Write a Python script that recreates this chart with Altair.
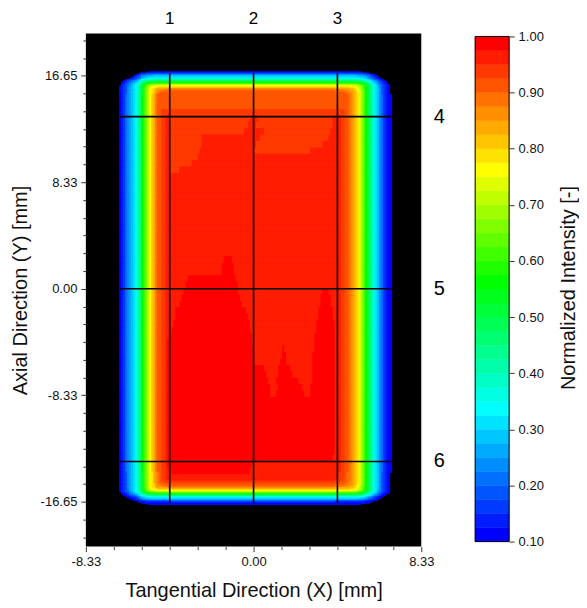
import math
import altair as alt
import pandas as pd

# ---------------- colour levels (contour bands of 0.025 from 0.10 to 1.00) ----------------
LEVEL_MIN = 0.10
LEVEL_STEP = 0.025
N_LEVELS = 36
BAND_COLORS = [
    "#0000ff", "#001cff", "#0039ff", "#0055ff", "#0071ff", "#008eff", "#00aaff", "#00c6ff", "#00e3ff", "#00ffff",
    "#00ffe3", "#00ffc6", "#00ffaa", "#00ff8e", "#00ff71", "#00ff55", "#00ff39", "#00ff1c", "#00ff00",
    "#20ff00", "#40ff00", "#60ff00", "#80ff00", "#9fff00", "#bfff00", "#dfff00", "#ffff00",
    "#ffe300", "#ffc600", "#ffaa00", "#ff8e00", "#ff7100", "#ff5500", "#ff3900", "#ff1c00", "#ff0000",
]
CB_TICKS = [0.10, 0.20, 0.30, 0.40, 0.50, 0.60, 0.70, 0.80, 0.90, 1.00]

# ---------------- intensity profiles ----------------
# tangential (X) fall-off at the left and right edges [mm] -> normalized intensity
X_LEFT = [-6.7, -6.6, -6.5, -6.4, -6.3, -6.2, -6.1, -6.0, -5.9, -5.8, -5.7, -5.6, -5.5,
          -5.4, -5.3, -5.2, -5.1, -5.0, -4.9, -4.8, -4.7, -4.6, -4.5, -4.4, -4.3]
I_LEFT = [0.05, 0.11, 0.14, 0.17, 0.20, 0.23, 0.26, 0.29, 0.32, 0.36, 0.41, 0.47, 0.55,
          0.61, 0.67, 0.72, 0.77, 0.80, 0.83, 0.875, 0.90, 0.92, 0.935, 0.948, 0.97]
X_RIGHT = [4.1, 4.2, 4.3, 4.4, 4.5, 4.6, 4.7, 4.8, 4.9, 5.0, 5.1, 5.2, 5.3, 5.4, 5.5,
           5.6, 5.7, 5.8, 5.9, 6.0, 6.1, 6.2, 6.3, 6.4, 6.5, 6.6, 6.7, 6.8, 6.9]
I_RIGHT = [0.98, 0.96, 0.95, 0.94, 0.93, 0.92, 0.90, 0.88, 0.86, 0.84, 0.81, 0.78, 0.73, 0.68, 0.63,
           0.57, 0.52, 0.46, 0.41, 0.36, 0.32, 0.28, 0.24, 0.20, 0.17, 0.14, 0.12, 0.10, 0.05]
# axial (Y) fall-off at the top and bottom edges [mm] -> normalized intensity
Y_TOP = [16.9, 16.8, 16.7, 16.6, 16.5, 16.4, 16.3, 16.2, 16.1, 16.0, 15.9, 15.8, 15.7,
         15.6, 15.5, 15.4, 15.3, 15.2]
I_TOP = [0.11, 0.17, 0.23, 0.28, 0.31, 0.35, 0.41, 0.48, 0.55, 0.62, 0.70, 0.77, 0.81,
         0.85, 0.88, 0.90, 0.92, 0.94]
Y_BOTTOM = [-14.4, -14.5, -14.6, -14.7, -14.8, -14.9, -15.0, -15.1, -15.2, -15.3, -15.4, -15.5, -15.6,
            -15.7, -15.8, -15.9, -16.0, -16.1, -16.2, -16.3, -16.4, -16.5, -16.6, -16.7, -16.8, -16.9]
I_BOTTOM = [0.985, 0.975, 0.97, 0.965, 0.96, 0.955, 0.95, 0.94, 0.93, 0.92, 0.90, 0.88, 0.85,
            0.81, 0.77, 0.70, 0.61, 0.53, 0.45, 0.37, 0.32, 0.26, 0.20, 0.15, 0.11, 0.07]
CORNER_P = 3  # how square the corners of the irradiated field are

# interior plateau levels
LEVEL_TOP_STRIP = 0.91   # y above 14.0 mm
LEVEL_UPPER = 0.94       # 13.4 .. 14.0 mm and patches below
LEVEL_PLATEAU = 0.96     # most of the field
LEVEL_PEAK = 0.99        # peak (red) zones
STRIP_Y = 14.0
UPPER_Y = 13.4
ROW_HALF = 0.25
# x-spans of the 0.925-0.95 patches, per 0.5 mm row (row centre in mm)
UPPER_SPANS = {
    13.25: [(-4.1, -0.1), (0.3, 4.0)],
    12.75: [(-4.1, -0.2), (0.2, 4.0)],
    12.25: [(-4.1, -0.4), (0.6, 3.9)],
    11.75: [(-4.1, -2.5), (0.4, 3.8)],
    11.25: [(-4.1, -2.5), (0.2, 3.5)],
    10.75: [(-4.1, -2.6), (0.1, 2.9)],
    10.25: [(-4.1, -2.7)],
    9.75: [(-4.1, -3.0)],
    9.25: [(-4.1, -3.6)],
}
# x-spans of the peak (>0.975) zones, per 0.5 mm row
PEAK_SPANS = {
    2.25: [(-1.45, -1.0)],
    1.75: [(-1.5, -0.9)],
    1.25: [(-1.5, -0.9)],
    0.75: [(-3.2, -0.8)],
    0.25: [(-3.3, -0.75)],
    -0.25: [(-3.45, -0.7), (3.45, 3.75)],
    -0.75: [(-3.55, -0.62), (3.4, 3.85)],
    -1.25: [(-3.65, -0.5), (3.35, 3.9)],
    -1.75: [(-3.8, -0.35), (3.3, 3.95)],
    -2.25: [(-3.9, -0.25), (3.25, 4.0)],
    -2.75: [(-3.95, -0.18), (3.2, 4.05)],
    -3.25: [(-4.0, -0.12), (3.15, 4.05)],
    -3.75: [(-4.1, -0.05), (3.1, 4.1)],
    -4.25: [(-4.2, 0.0), (3.05, 4.1)],
    -4.75: [(-4.25, 0.02), (1.45, 1.6), (3.05, 4.1)],
    -5.25: [(-4.25, 0.02), (1.42, 1.65), (3.0, 4.1)],
    -5.75: [(-4.3, 0.05), (1.38, 1.7), (3.0, 4.1)],
    -6.25: [(-4.3, 0.6), (1.3, 1.85), (3.0, 4.1)],
    -6.75: [(-4.3, 0.7), (1.22, 2.0), (3.0, 4.1)],
    -7.25: [(-4.3, 0.78), (1.2, 2.3), (2.95, 4.1)],
    -7.75: [(-4.3, 0.85), (1.25, 2.45), (2.9, 4.1)],
    -8.25: [(-4.3, 0.9), (1.15, 2.55), (2.85, 4.1)],
    -8.75: [(-4.3, 4.1)],
    -9.25: [(-4.3, 4.1)],
    -9.75: [(-4.3, 4.1)],
    -10.25: [(-4.3, 4.1)],
    -10.75: [(-4.3, 4.1)],
    -11.25: [(-4.3, 4.1)],
    -11.75: [(-4.3, 4.1)],
    -12.25: [(-4.3, 4.1)],
    -12.75: [(-4.3, 4.1)],
    -13.25: [(-4.3, 4.0)],
    -13.75: [(-4.2, 0.0)],
    -14.25: [(-4.0, -0.1)],
}

# measurement lines and their labels
VLINE_X = [-4.165, 0.0, 4.165]
VLINE_LABELS = ["1", "2", "3"]
VLINE_SPAN = [-16.75, 16.85]
HLINE_Y = [13.45, 0.0, -13.5]
HLINE_LABELS = ["4", "5", "6"]
HLINE_SPAN = [-6.65, 6.85]

# axes
X_DOMAIN = [-8.33, 8.33]
Y_DOMAIN = [-20.15, 19.95]
X_MAJOR = [-8.33, 0.0, 8.33]
Y_MAJOR = [-16.65, -8.33, 0.0, 8.33, 16.65]
MINOR_PER_MAJOR = 6

# ---------------- build the cell table ----------------
def in_spans(table, xc, yc):
    for key, spans in table.items():
        if key - ROW_HALF <= yc < key + ROW_HALF:
            return any(a <= xc < b for a, b in spans)
    return False

def interior(xc, yc):
    if yc > STRIP_Y:
        return LEVEL_TOP_STRIP
    if yc > UPPER_Y:
        return LEVEL_UPPER
    if in_spans(PEAK_SPANS, xc, yc):
        return LEVEL_PEAK
    if in_spans(UPPER_SPANS, xc, yc):
        return LEVEL_UPPER
    return LEVEL_PLATEAU

FINE = 0.1
cols = [(x - FINE / 2, x + FINE / 2, v) for x, v in zip(X_LEFT, I_LEFT)]
x_in_lo, x_in_hi = X_LEFT[-1] + FINE / 2, X_RIGHT[0] - FINE / 2
n_in = int(round((x_in_hi - x_in_lo) / FINE))
xe = [x_in_lo + i * (x_in_hi - x_in_lo) / n_in for i in range(n_in + 1)]
cols += [(a, b, 1.0) for a, b in zip(xe[:-1], xe[1:])]
cols += [(x - FINE / 2, x + FINE / 2, v) for x, v in zip(X_RIGHT, I_RIGHT)]

rows = [(y + FINE / 2, y - FINE / 2, v) for y, v in zip(Y_TOP, I_TOP)]
y_in_hi, y_in_lo = Y_TOP[-1] - FINE / 2, Y_BOTTOM[0] + FINE / 2
ye = [y_in_hi] + [k * 0.5 for k in range(int(math.floor(y_in_hi * 2)), int(math.ceil(y_in_lo * 2)) - 1, -1)
                  if y_in_lo < k * 0.5 < y_in_hi] + [y_in_lo]
rows += [(a, b, 1.0) for a, b in zip(ye[:-1], ye[1:])]
rows += [(y + FINE / 2, y - FINE / 2, v) for y, v in zip(Y_BOTTOM, I_BOTTOM)]

records = []
for (ya, yb, ey) in rows:
    yc = 0.5 * (ya + yb)
    run = None
    for (xa, xb, ex) in cols:
        xc = 0.5 * (xa + xb)
        edge = 1.0 - ((1.0 - ex) ** CORNER_P + (1.0 - ey) ** CORNER_P) ** (1.0 / CORNER_P)
        v = min(edge, interior(xc, yc))
        band = None if v < LEVEL_MIN - 1e-9 else min(int((v - LEVEL_MIN) / LEVEL_STEP + 1e-9), N_LEVELS - 1)
        if run is not None and run[2] == band and abs(run[1] - xa) < 1e-6:
            run[1] = xb
        else:
            if run is not None and run[2] is not None:
                records.append(run)
            run = [xa, xb, band, ya, yb]
    if run is not None and run[2] is not None:
        records.append(run)

cells = pd.DataFrame(
    [{"x0": r[0], "x1": r[1], "y0": r[4], "y1": r[3],
      "v": LEVEL_MIN + LEVEL_STEP * (r[2] + 0.5)} for r in records]
)

thresholds = [round(LEVEL_MIN + LEVEL_STEP * i, 4) for i in range(1, N_LEVELS)]
color_scale = alt.Scale(type="threshold", domain=thresholds, range=BAND_COLORS)

def minor_ticks(majors, lo, hi):
    vals = []
    for a, b in zip(majors[:-1], majors[1:]):
        step = (b - a) / MINOR_PER_MAJOR
        vals += [a + i * step for i in range(1, MINOR_PER_MAJOR)]
    step_lo = (majors[1] - majors[0]) / MINOR_PER_MAJOR
    v = majors[0] - step_lo
    while v >= lo:
        vals.append(v)
        v -= step_lo
    step_hi = (majors[-1] - majors[-2]) / MINOR_PER_MAJOR
    v = majors[-1] + step_hi
    while v <= hi:
        vals.append(v)
        v += step_hi
    return sorted(round(t, 4) for t in vals)

X_MINOR = minor_ticks(X_MAJOR, X_DOMAIN[0], X_DOMAIN[1])
Y_MINOR = minor_ticks(Y_MAJOR, Y_DOMAIN[0], Y_DOMAIN[1])

LABEL_EXPR = "(datum.value < -0.001 ? '-' : '') + format(abs(datum.value), '.2f')"

W, H = 336, 514
xscale = alt.Scale(domain=X_DOMAIN, nice=False, zero=False)
yscale = alt.Scale(domain=Y_DOMAIN, nice=False, zero=False)

common_axis = dict(grid=False, domain=False, tickColor="#333", labelColor="#111", labelFontSize=13,
                   labelFlush=False, labelOverlap=False, labelPadding=4,
                   titleFontSize=20, titleFontWeight="normal", titleColor="#111")
x_axis = alt.Axis(values=X_MAJOR, labelExpr=LABEL_EXPR, tickSize=5, orient="bottom",
                  title="Tangential Direction (X) [mm]", titlePadding=12, **common_axis)
y_axis = alt.Axis(values=Y_MAJOR, labelExpr=LABEL_EXPR, tickSize=5, orient="left",
                  title="Axial Direction (Y) [mm]", titlePadding=10, **common_axis)
x_minor_axis = alt.Axis(values=X_MINOR, labels=False, tickSize=3, orient="bottom", title=None,
                        grid=False, domain=False, tickColor="#333")
y_minor_axis = alt.Axis(values=Y_MINOR, labels=False, tickSize=3, orient="left", title=None,
                        grid=False, domain=False, tickColor="#333")

heat = alt.Chart(cells).mark_rect(strokeWidth=1.2).encode(
    x=alt.X("x0:Q", scale=xscale, axis=x_axis),
    x2="x1:Q",
    y=alt.Y("y0:Q", scale=yscale, axis=y_axis),
    y2="y1:Q",
    color=alt.Color("v:Q", scale=color_scale, legend=None),
    stroke=alt.Stroke("v:Q", scale=color_scale, legend=None),
)

xminor = alt.Chart(pd.DataFrame({"t": X_MINOR})).mark_point(opacity=0, size=1).encode(
    x=alt.X("t:Q", scale=xscale, axis=x_minor_axis))
yminor = alt.Chart(pd.DataFrame({"t": Y_MINOR})).mark_point(opacity=0, size=1).encode(
    y=alt.Y("t:Q", scale=yscale, axis=y_minor_axis))

vdf = pd.DataFrame({"x": VLINE_X, "lab": VLINE_LABELS,
                    "ya": [VLINE_SPAN[0]] * 3, "yb": [VLINE_SPAN[1]] * 3})
hdf = pd.DataFrame({"y": HLINE_Y, "lab": HLINE_LABELS,
                    "xa": [HLINE_SPAN[0]] * 3, "xb": [HLINE_SPAN[1]] * 3})

vrules = alt.Chart(vdf).mark_rule(color="black", strokeWidth=1.6).encode(
    x=alt.X("x:Q", scale=xscale, axis=None), y=alt.Y("ya:Q", scale=yscale, axis=None), y2="yb:Q")
hrules = alt.Chart(hdf).mark_rule(color="black", strokeWidth=1.6).encode(
    y=alt.Y("y:Q", scale=yscale, axis=None), x=alt.X("xa:Q", scale=xscale, axis=None), x2="xb:Q")
vtext = alt.Chart(vdf).mark_text(fontSize=17, color="black", baseline="middle").encode(
    x=alt.X("x:Q", scale=xscale, axis=None), y=alt.value(-14), text="lab:N")
htext = alt.Chart(hdf).mark_text(fontSize=20, color="black", baseline="middle").encode(
    y=alt.Y("y:Q", scale=yscale, axis=None), x=alt.value(W + 18), text="lab:N")

main = alt.layer(heat, xminor, yminor, vrules, hrules, vtext, htext).resolve_axis(
    x="independent", y="independent"
).properties(width=W, height=H, view=alt.ViewBackground(fill="black", stroke=None))

# ---------------- colour bar ----------------
CB_W, CB_H = 34, 509
cb_top = 1.0 + 3 * (0.9 / 506)
cb_df = pd.DataFrame({
    "lo": [LEVEL_MIN + LEVEL_STEP * i for i in range(N_LEVELS)],
    "hi": [LEVEL_MIN + LEVEL_STEP * (i + 1) for i in range(N_LEVELS)],
})
cb_df["mid"] = (cb_df["lo"] + cb_df["hi"]) / 2
cb_scale = alt.Scale(domain=[LEVEL_MIN, cb_top], nice=False, zero=False)
cb_axis = alt.Axis(
    orient="right", values=CB_TICKS, format=".2f", tickSize=5, domain=False, grid=False,
    tickColor="#333", labelColor="#111", labelFontSize=13, labelFlush=False, labelOverlap=False,
    labelPadding=4, title="Normalized Intensity [-]", titleFontSize=20, titleFontWeight="normal",
    titleColor="#111", titlePadding=15, titleAngle=270, titleBaseline="top",
)
cb_rect = alt.Chart(cb_df).mark_rect(strokeWidth=0.5).encode(
    y=alt.Y("lo:Q", scale=cb_scale, axis=cb_axis),
    y2="hi:Q",
    x=alt.value(0), x2=alt.value(CB_W),
    color=alt.Color("mid:Q", scale=color_scale, legend=None),
    stroke=alt.Stroke("mid:Q", scale=color_scale, legend=None),
)
border_df = pd.DataFrame({"lo": [LEVEL_MIN], "hi": [1.0]})
cb_border = alt.Chart(border_df).mark_rect(fill=None, stroke="black", strokeWidth=1).encode(
    y=alt.Y("lo:Q", scale=cb_scale), y2="hi:Q", x=alt.value(0), x2=alt.value(CB_W))
colorbar = alt.layer(cb_rect, cb_border).properties(
    width=CB_W, height=CB_H, view=alt.ViewBackground(stroke=None))

chart = alt.hconcat(main, colorbar, spacing=29).properties(
    padding={"left": 2, "top": 2, "right": 0, "bottom": 0}
).configure(font="Liberation Sans").configure_view(stroke=None)

chart.save("out.html", embed_options={"renderer": "svg", "actions": False})
